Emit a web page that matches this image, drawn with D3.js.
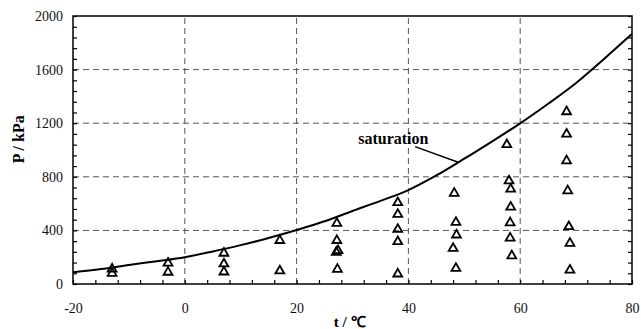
<!DOCTYPE html>
<html><head><meta charset="utf-8">
<script src="https://cdn.jsdelivr.net/npm/d3@7"></script>
<style>body{margin:0;background:#fff}svg{display:block}</style>
</head><body><svg id="c" width="641" height="329"></svg>
<script>
// saturation curve
const curveT = [-20,-15,-10,-5,0,5,10,15,20,25,30,35,40,45,50,55,60,65,70,75,80];
const curveP = [88,112,142,170,200,243,290,343,403,468,545,620,701,810,935,1065,1199,1345,1500,1680,1866];
// measured points
const pointT = [-13,-13, -3,-3, 7,7,7, 17,17, 27.2,27.2,27.1,27.4,27.3, 38.1,38.1,38.1,38.1,38.1,
  48.2,48.5,48.6,48.0,48.5, 57.6,58.0,58.3,58.3,58.2,58.2,58.5, 68.3,68.3,68.3,68.5,68.7,68.9,68.9];
const pointP = [112,80, 156,88, 230,150,90, 325,98, 453,325,237,249,110, 607,520,408,316,75,
  677,460,366,266,117, 1040,770,708,574,457,343,211, 1286,1119,920,696,428,304,104];
const xTicks = [-20,0,20,40,60,80];
const yTicks = [0,400,800,1200,1600,2000];
const xGrid = [0,20,40,60];
const yGrid = [400,800,1200,1600];
const satLabel = "saturation";
const xTitle = "t / \u2103";
const yTitle = "P / kPa";

const W=641,H=329, m={l:73,r:9,t:16,b:45};
const svg=d3.select("#c");
const x=d3.scaleLinear().domain([-20,80]).range([m.l,W-m.r]);
const y=d3.scaleLinear().domain([0,2000]).range([H-m.b,m.t]);
const font="'Liberation Serif','Times New Roman',serif";

// grid
svg.append("g").selectAll("line").data(yGrid).join("line")
  .attr("x1",x(-20)).attr("x2",x(80)).attr("y1",d=>y(d)).attr("y2",d=>y(d))
  .attr("stroke","#555").attr("stroke-width",1).attr("stroke-dasharray","6,4");
svg.append("g").selectAll("line").data(xGrid).join("line")
  .attr("y1",y(0)).attr("y2",y(2000)).attr("x1",d=>x(d)).attr("x2",d=>x(d))
  .attr("stroke","#555").attr("stroke-width",1).attr("stroke-dasharray","6,4");

// inward ticks (minor) on all except top
const xMinor=d3.range(-20,80.01,4), yMinor=d3.range(0,2000.1,80);
function tk(g){g.select(".domain").remove();g.selectAll("line").attr("stroke","#000").attr("stroke-width",1.2);}
svg.append("g").attr("transform",`translate(0,${y(0)})`)
  .call(d3.axisBottom(x).tickValues(xMinor).tickSize(-4).tickFormat("")).call(tk);
svg.append("g").attr("transform",`translate(${x(-20)},0)`)
  .call(d3.axisLeft(y).tickValues(yMinor).tickSize(-4).tickFormat("")).call(tk);
svg.append("g").attr("transform",`translate(${x(80)},0)`)
  .call(d3.axisRight(y).tickValues(yMinor).tickSize(-4).tickFormat("")).call(tk);

// tick labels
const fmt=d=>String(d);
const xl=svg.append("g").attr("transform",`translate(0,${y(0)})`)
  .call(d3.axisBottom(x).tickValues(xTicks).tickSize(0).tickPadding(19).tickFormat(fmt));
xl.select(".domain").remove();
xl.selectAll("text").attr("font-family",font).attr("font-size",14).attr("fill","#111");
const yl=svg.append("g").attr("transform",`translate(${x(-20)},0)`)
  .call(d3.axisLeft(y).tickValues(yTicks).tickSize(0).tickPadding(10).tickFormat(fmt));
yl.select(".domain").remove();
yl.selectAll("text").attr("font-family",font).attr("font-size",14).attr("fill","#111");

// frame
svg.append("rect").attr("x",x(-20)).attr("y",y(2000)).attr("width",x(80)-x(-20)).attr("height",y(0)-y(2000))
  .attr("fill","none").attr("stroke","#000").attr("stroke-width",1.5);

// curve
const data=curveT.map((t,i)=>[t,curveP[i]]);
svg.append("path").datum(data)
  .attr("d",d3.line().x(d=>x(d[0])).y(d=>y(d[1])).curve(d3.curveMonotoneX))
  .attr("fill","none").attr("stroke","#000").attr("stroke-width",2);

// points
const sym=d3.symbol(d3.symbolTriangle,34);
svg.append("g").selectAll("path").data(pointT.map((t,i)=>[t,pointP[i]])).join("path")
  .attr("d",sym).attr("transform",d=>`translate(${x(d[0])},${y(d[1])})`)
  .attr("fill","none").attr("stroke","#000").attr("stroke-width",1.8);

// annotation
svg.append("line").attr("x1",x(41.2)).attr("y1",y(1025)).attr("x2",x(48.9)).attr("y2",y(908))
  .attr("stroke","#000").attr("stroke-width",1.5);
svg.append("text").attr("x",x(37.3)).attr("y",y(1045)).attr("text-anchor","middle")
  .attr("font-family",font).attr("font-weight","bold").attr("font-size",16).text(satLabel);

// titles
svg.append("text").attr("x",x(29.5)).attr("y",327).attr("text-anchor","middle")
  .attr("font-family",font).attr("font-weight","bold").attr("font-size",15).text(xTitle);
svg.append("text").attr("transform",`translate(24,${y(1080)}) rotate(-90)`).attr("text-anchor","middle")
  .attr("font-family",font).attr("font-weight","bold").attr("font-size",16).text(yTitle);
</script></body></html>
